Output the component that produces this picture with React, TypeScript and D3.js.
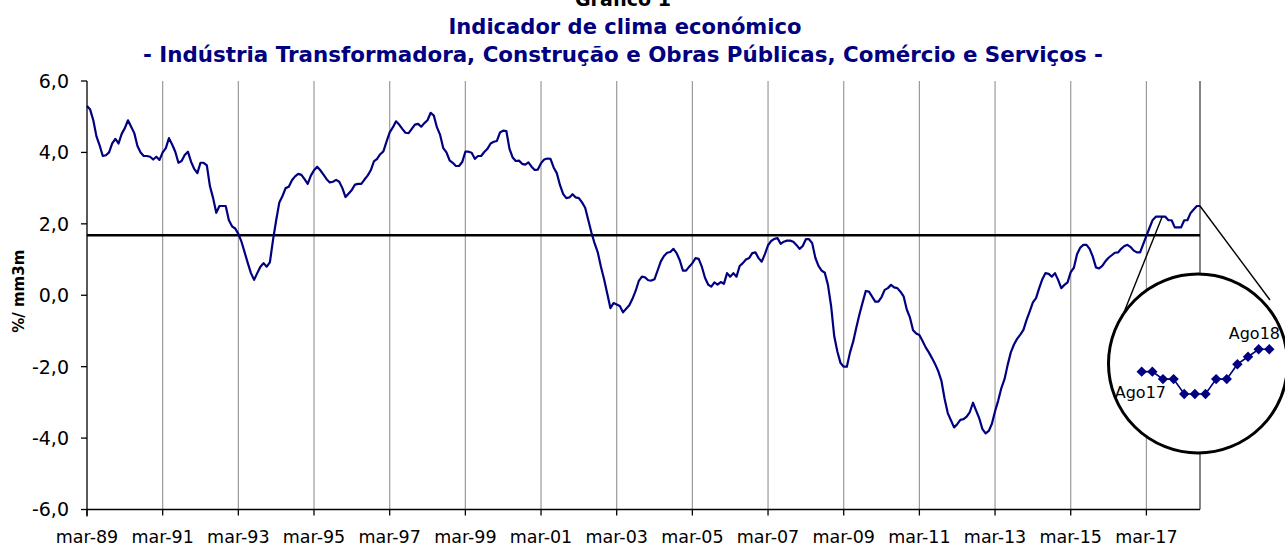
import React from "react";
import * as d3 from "d3";

// ---- Data (monthly, from mar-89 to ago-18) ----
const startYear = 1989;
const startMonth = 2; // March (0-based)
const monthNames = ["jan", "fev", "mar", "abr", "mai", "jun", "jul", "ago", "set", "out", "nov", "dez"];

const values: number[] = [
  // 1989 (mar-dez)
  5.3, 5.2, 4.9, 4.45, 4.2, 3.9, 3.92, 4.0, 4.25, 4.38,
  // 1990
  4.25, 4.52, 4.68, 4.9, 4.72, 4.54, 4.18, 4.0, 3.9, 3.9, 3.88, 3.8,
  // 1991
  3.88, 3.79, 4.0, 4.12, 4.4, 4.22, 4.02, 3.71, 3.76, 3.93, 4.02, 3.74,
  // 1992
  3.54, 3.42, 3.71, 3.71, 3.64, 3.05, 2.72, 2.31, 2.5, 2.5, 2.5, 2.1,
  // 1993
  1.93, 1.87, 1.72, 1.5, 1.2, 0.9, 0.62, 0.43, 0.62, 0.8, 0.9, 0.8,
  // 1994
  0.92, 1.55, 2.1, 2.6, 2.78, 3.0, 3.04, 3.22, 3.33, 3.4, 3.37, 3.25,
  // 1995
  3.12, 3.35, 3.5, 3.6, 3.5, 3.38, 3.25, 3.16, 3.18, 3.23, 3.18, 3.0,
  // 1996
  2.75, 2.85, 2.95, 3.1, 3.12, 3.12, 3.24, 3.35, 3.5, 3.75, 3.82, 3.95,
  // 1997
  4.03, 4.3, 4.56, 4.7, 4.87, 4.78, 4.66, 4.55, 4.54, 4.66, 4.78, 4.8,
  // 1998
  4.72, 4.82, 4.9, 5.11, 5.03, 4.7, 4.49, 4.12, 4.0, 3.78, 3.71, 3.62,
  // 1999
  3.62, 3.73, 4.02, 4.02, 3.99, 3.82, 3.9, 3.9, 4.01, 4.1, 4.25, 4.3,
  // 2000
  4.32, 4.56, 4.61, 4.6, 4.1, 3.86, 3.76, 3.77, 3.68, 3.66, 3.72, 3.6,
  // 2001
  3.51, 3.52, 3.7, 3.8, 3.83, 3.82, 3.58, 3.42, 3.09, 2.84, 2.72, 2.74,
  // 2002
  2.83, 2.74, 2.72, 2.6, 2.45, 2.1, 1.75, 1.45, 1.2, 0.8, 0.45, 0.05,
  // 2003
  -0.36, -0.22, -0.26, -0.3, -0.48, -0.38, -0.28, -0.1, 0.12, 0.4, 0.52, 0.5,
  // 2004
  0.42, 0.41, 0.45, 0.7, 0.95, 1.1, 1.19, 1.21, 1.3, 1.18, 0.98, 0.69,
  // 2005
  0.69, 0.8, 0.9, 1.04, 1.02, 0.8, 0.49, 0.3, 0.24, 0.36, 0.3, 0.37,
  // 2006
  0.32, 0.62, 0.52, 0.62, 0.52, 0.82, 0.9, 1.0, 1.04, 1.18, 1.2, 1.04,
  // 2007
  0.94, 1.15, 1.4, 1.52, 1.58, 1.6, 1.44, 1.5, 1.53, 1.53, 1.5, 1.41,
  // 2008
  1.3, 1.38, 1.57, 1.57, 1.46, 1.05, 0.82, 0.69, 0.63, 0.29, -0.3, -1.15,
  // 2009
  -1.58, -1.9, -2.0, -2.0, -1.6, -1.3, -0.9, -0.53, -0.2, 0.12, 0.1, -0.04,
  // 2010
  -0.18, -0.18, -0.05, 0.15, 0.2, 0.29, 0.22, 0.2, 0.1, -0.03, -0.4, -0.62,
  // 2011
  -0.98, -1.07, -1.11, -1.28, -1.46, -1.6, -1.76, -1.93, -2.13, -2.4, -2.9, -3.3,
  // 2012
  -3.5, -3.7, -3.61, -3.49, -3.47, -3.4, -3.27, -3.01, -3.23, -3.45, -3.75, -3.87,
  // 2013
  -3.8, -3.6, -3.25, -2.95, -2.6, -2.35, -1.95, -1.6, -1.38, -1.22, -1.1, -0.97,
  // 2014
  -0.69, -0.45, -0.2, -0.08, 0.2, 0.45, 0.62, 0.6, 0.52, 0.62, 0.43, 0.2,
  // 2015
  0.29, 0.36, 0.65, 0.77, 1.15, 1.33, 1.41, 1.41, 1.3, 1.08, 0.78, 0.75,
  // 2016
  0.82, 0.95, 1.05, 1.12, 1.19, 1.2, 1.3, 1.38, 1.41, 1.35, 1.25, 1.2,
  // 2017
  1.2, 1.43, 1.66, 1.89, 2.11, 2.2, 2.2, 2.2, 2.2, 2.1, 2.1, 1.9,
  // 2018 (jan-ago)
  1.9, 1.9, 2.1, 2.1, 2.3, 2.4, 2.5, 2.5,
];

const categories: string[] = values.map((_, i) => {
  const m = (startMonth + i) % 12;
  const y = startYear + Math.floor((startMonth + i) / 12);
  return `${monthNames[m]}-${String(y).slice(2)}`;
});

const tickLabels = [
  "mar-89", "mar-91", "mar-93", "mar-95", "mar-97", "mar-99", "mar-01", "mar-03",
  "mar-05", "mar-07", "mar-09", "mar-11", "mar-13", "mar-15", "mar-17",
];
const yTicks = [-6, -4, -2, 0, 2, 4, 6];
const averageLine = 1.68;

const insetLabels = ["Ago17", "Ago18"];
const insetCount = 13;

const titleTop = "Gráfico 1";
const title1 = "Indicador de clima económico";
const title2 = "- Indústria Transformadora, Construção e Obras Públicas, Comércio e Serviços -";
const yTitle = "%/ mm3m";

// ---- Layout ----
const W = 1285;
const H = 547;
const L = 87;
const R = 1200;
const T = 81;
const B = 509.5;
const NAVY = "#000080";
const FONT = "Tahoma, 'DejaVu Sans', Verdana, sans-serif";

const fmt = d3.formatLocale({ decimal: ",", thousands: ".", grouping: [3], currency: ["", "€"], minus: "-" }).format(".1f");

export default function App() {
  const x = d3.scaleLinear().domain([0, values.length - 1]).range([L, R]);
  const y = d3.scaleLinear().domain([-6, 6]).range([B, T]);
  const line = d3.line<number>().x((_, i) => x(i)).y((d) => y(d));

  const tickIdx = tickLabels.map((lab) => categories.indexOf(lab));

  const insetVals = values.slice(-insetCount);
  const xi = d3.scaleLinear().domain([0, insetCount - 1]).range([1141.7, 1269.3]);
  const yi = d3.scaleLinear().domain([1.9, 2.5]).range([394, 349.3]);
  const insetLine = d3.line<number>().x((_, i) => xi(i)).y((d) => yi(d));

  const iStart = values.length - insetCount;
  const iEnd = values.length - 1;
  const cx = 1198;
  const cy = 363.5;
  const cr = 89.5;

  const diamond = (px: number, py: number, s = 5.2) =>
    `M${px},${py - s}L${px + s},${py}L${px},${py + s}L${px - s},${py}Z`;

  return (
    <svg width={W} height={H} style={{ position: "absolute", left: 0, top: 0, background: "#fff" }} fontFamily={FONT}>
      <rect x={0} y={0} width={W} height={H} fill="#fff" />
      {/* titles */}
      <text x={623} y={6} textAnchor="middle" fontWeight="bold" fontSize={19} fill="#000">{titleTop}</text>
      <text x={625} y={34} textAnchor="middle" fontWeight="bold" fontSize={21} fill={NAVY} textLength={353} lengthAdjust="spacingAndGlyphs">{title1}</text>
      <text x={623} y={61.5} textAnchor="middle" fontWeight="bold" fontSize={21} fill={NAVY} textLength={960} lengthAdjust="spacingAndGlyphs">{title2}</text>

      {/* vertical gridlines */}
      {tickIdx.slice(1).map((i) => (
        <line key={"g" + i} x1={x(i)} x2={x(i)} y1={T} y2={B} stroke="#9a9a9a" strokeWidth={1.2} />
      ))}
      {/* right border */}
      <line x1={R} x2={R} y1={T} y2={B} stroke="#333" strokeWidth={1.2} />

      {/* average line */}
      <line x1={L} x2={R} y1={y(averageLine)} y2={y(averageLine)} stroke="#000" strokeWidth={2.5} />

      {/* series */}
      <path d={line(values) || ""} fill="none" stroke={NAVY} strokeWidth={2.2} strokeLinejoin="round" />

      {/* axes */}
      <line x1={L} x2={L} y1={T} y2={B + 7} stroke="#000" strokeWidth={1.3} />
      <line x1={L} x2={R} y1={B} y2={B} stroke="#000" strokeWidth={1.3} />
      {yTicks.map((v) => (
        <g key={"y" + v}>
          <line x1={L - 6} x2={L} y1={y(v)} y2={y(v)} stroke="#000" strokeWidth={1.3} />
          <text x={69} y={y(v)} dy="0.36em" textAnchor="end" fontSize={19} fill="#000">{fmt(v)}</text>
        </g>
      ))}
      {tickIdx.map((i, k) => (
        <g key={"x" + i}>
          <line x1={x(i)} x2={x(i)} y1={B} y2={B + 6} stroke="#000" strokeWidth={1.3} />
          <text x={x(i)} y={543} textAnchor="middle" fontSize={17.5} fill="#000">{tickLabels[k]}</text>
        </g>
      ))}
      <text transform={`translate(24,${(T + B) / 2 - 4}) rotate(-90)`} textAnchor="middle" fontWeight="bold" fontSize={15} fill="#000">{yTitle}</text>

      {/* zoom inset */}
      <line x1={x(iStart)} y1={y(values[iStart])} x2={1121.5} y2={318.5} stroke="#000" strokeWidth={1.4} />
      <line x1={x(iEnd)} y1={y(values[iEnd])} x2={1270} y2={300} stroke="#000" strokeWidth={1.4} />
      <circle cx={cx} cy={cy} r={cr} fill="#fff" stroke="#000" strokeWidth={3} />
      <path d={insetLine(insetVals) || ""} fill="none" stroke={NAVY} strokeWidth={1.6} />
      {insetVals.map((v, i) => (
        <path key={"d" + i} d={diamond(xi(i), yi(v))} fill={NAVY} />
      ))}
      <text x={1166} y={398} textAnchor="end" fontSize={16} fill="#000">{insetLabels[0]}</text>
      <text x={1280} y={339} textAnchor="end" fontSize={16} fill="#000">{insetLabels[1]}</text>
    </svg>
  );
}
